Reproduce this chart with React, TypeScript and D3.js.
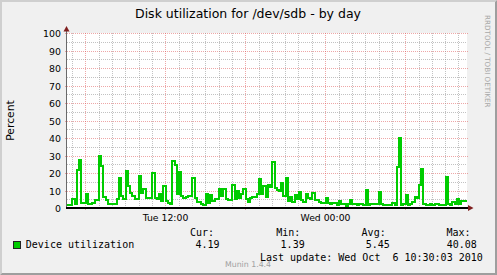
import React from 'react';
import * as d3 from 'd3';

// ---- data ----
const START = Date.UTC(2010, 9, 5, 4, 36);
const END = Date.UTC(2010, 9, 6, 10, 36);
const FIRST_SAMPLE = Date.UTC(2010, 9, 5, 4, 40);
const STEP_MS = 10 * 60 * 1000;

const utilization = [
  2.2, 2.2, 5.6, 2.4, 22, 27.7, 3.3, 3.3, 8.5, 2.4,
  2.4, 3.3, 5, 4.8, 30, 24.3, 6.6, 5, 2.8, 2.8,
  2.8, 2.8, 5.2, 17.6, 7, 5.2, 21.4, 12.9, 9, 7,
  5.2, 5.5, 18.6, 9, 11, 6.2, 5.8, 5.8, 20.5, 5.8,
  5.2, 8.5, 4.3, 12.9, 4.3, 3.3, 2.4, 27.1, 24.9, 8.1,
  21, 7.1, 6.2, 6.6, 7.1, 7.1, 17.6, 5.8, 3.9, 3.9,
  2.8, 2, 8.5, 3.3, 7.7, 4.3, 5.2, 5.2, 11, 7.1,
  11, 5.2, 4.7, 4.7, 13.4, 5.2, 10, 6.2, 8.1, 11,
  5.2, 3.9, 5.8, 6.6, 6.6, 8.1, 16.7, 8.1, 12.9, 6.6,
  13.4, 12.3, 26.8, 11.9, 10.4, 10, 14.8, 7.1, 17.6, 4.3,
  6.6, 3.9, 7.5, 5.2, 9.6, 4.7, 3.9, 8.1, 5.8, 5.2,
  8.7, 4.7, 4.7, 3.9, 3.3, 3.3, 6.2, 3.3, 2.4, 3.3,
  3.3, 2, 4.3, 2.4, 2.4, 1.39, 2.4, 4.7, 2.4, 2.4,
  2, 2.4, 2.4, 2, 10.5, 2, 2.8, 2.4, 2.4, 2.4,
  9.4, 2.4, 2, 2, 2, 2, 3.3, 2, 23.7, 40.08,
  2, 2.8, 7.7, 2, 2.8, 3.9, 6.6, 5.8, 13.4, 22.4,
  2.4, 2, 2, 2.8, 2, 2.8, 2.8, 2, 2, 2,
  18, 2.4, 2, 3.9, 2.4, 5.2, 2.8, 4.3, 4.3, 4.19,
];

const yTicks = [0, 10, 20, 30, 40, 50, 60, 70, 80, 90, 100];
const yMinorTicks = [5, 15, 25, 35, 45, 55, 65, 75, 85, 95];
const legendHeaders = ['Cur:', 'Min:', 'Avg:', 'Max:'];
const legendValues = ['4.19', '1.39', '5.45', '40.08'];
const seriesName = 'Device utilization';
const titleText = 'Disk utilization for /dev/sdb - by day';
const yLabel = 'Percent';
const lastUpdate = 'Last update: Wed Oct  6 10:30:03 2010';
const watermark = 'RRDTOOL / TOBI OETIKER';
const version = 'Munin 1.4.4';

// ---- layout ----
const W = 497, H = 275;
const X0 = 67, X1 = 467, Y0 = 208.5, Y1 = 33.5;
const SANS = '"DejaVu Sans", sans-serif';
const MONO = '"DejaVu Sans Mono", monospace';
const headerX = [190, 276.3, 361.6, 446.4];
const valueX = [195.4, 280.6, 365.8, 446.7];

export default function App() {
  const x = d3.scaleUtc().domain([START, END]).range([X0, X1]);
  const y = d3.scaleLinear().domain([0, 100]).range([Y0, Y1]);
  const gy = (v: number) => Math.floor(y(v)) + 0.5;
  const gx = (t: Date) => Math.floor(x(t)) + 0.5;

  const pts = utilization.map((v, i) => ({ t: FIRST_SAMPLE + i * STEP_MS, v }));
  pts[0] = { t: START, v: pts[0].v };
  pts.push({ t: END, v: utilization[utilization.length - 1] });

  const line = d3
    .line<{ t: number; v: number }>()
    .x((d) => Math.round(x(d.t)))
    .y((d) => Math.round(y(d.v)))
    .curve(d3.curveStepAfter);

  const hourTicks = x.ticks(d3.utcHour.every(1)!);
  const majorTicks = x.ticks(d3.utcHour.every(6)!);
  const labelTicks = x.ticks(d3.utcHour.every(12)!);
  const fmt = d3.utcFormat('%a %H:%M');
  const majorSet = new Set(majorTicks.map((d) => +d));

  const minorGridColor = 'rgba(143,143,143,0.55)';
  const majorGridColor = 'rgba(222,79,79,0.5)';

  return (
    <svg
      width={W}
      height={H}
      style={{ position: 'absolute', left: 0, top: 0, display: 'block' }}
    >
      <rect x={0} y={0} width={W} height={H} fill="#F0F0F0" />
      {/* 3d border */}
      <polygon points={`0,0 ${W},0 ${W - 2},2 2,2 2,${H - 2} 0,${H}`} fill="#CFCFCF" />
      <polygon points={`${W},${H} ${W},0 ${W - 2},2 ${W - 2},${H - 2} 2,${H - 2} 0,${H}`} fill="#9E9E9E" />

      {/* canvas */}
      <rect x={X0} y={33} width={X1 - X0} height={175} fill="#FFFFFF" />

      {/* horizontal grid */}
      {yMinorTicks.map((v) => (
        <line key={'hm' + v} x1={X0} x2={X1} y1={gy(v)} y2={gy(v)} stroke={minorGridColor} strokeWidth={1} strokeDasharray="1,1" />
      ))}
      {yTicks.filter((v) => v > 0).map((v) => (
        <line key={'hM' + v} x1={X0 - 2} x2={X1 + 2} y1={gy(v)} y2={gy(v)} stroke={majorGridColor} strokeWidth={1} strokeDasharray="1,1" />
      ))}
      {/* vertical grid */}
      {hourTicks.filter((d) => !majorSet.has(+d)).map((d) => (
        <line key={'vm' + +d} x1={gx(d)} x2={gx(d)} y1={33} y2={208} stroke={minorGridColor} strokeWidth={1} strokeDasharray="1,1" />
      ))}
      {majorTicks.map((d) => (
        <line key={'vM' + +d} x1={gx(d)} x2={gx(d)} y1={33} y2={210} stroke={majorGridColor} strokeWidth={1} strokeDasharray="1,1" />
      ))}

      {/* data line */}
      <path d={line(pts) || ''} fill="none" stroke="#00CC00" strokeWidth={2} strokeLinejoin="miter" />

      {/* axes */}
      <line x1={66.5} x2={66.5} y1={209} y2={30} stroke="#6A6A6A" strokeWidth={1} />
      <rect x={66} y={207} width={403} height={2} fill="#000000" />
      <polygon points="66.5,26 63.5,31.5 69.5,31.5" fill="#7F1F1F" />
      <polygon points="473.5,208 468,205 468,211" fill="#7F1F1F" />

      {/* y tick labels */}
      {yTicks.map((v) => (
        <text key={'yl' + v} x={61} y={gy(v) + 3.3} textAnchor="end" fontFamily={SANS} fontSize={9.4} fill="#000">
          {v}
        </text>
      ))}
      {/* x tick labels */}
      {labelTicks.map((d) => (
        <text key={'xl' + +d} x={gx(d)} y={221} textAnchor="middle" fontFamily={SANS} fontSize={9.3} fill="#000">
          {fmt(d)}
        </text>
      ))}

      {/* title */}
      <text x={248} y={18} textAnchor="middle" fontFamily={SANS} fontSize={12.5} fill="#000">
        {titleText}
      </text>
      {/* y label */}
      <text transform={`translate(14.3,120.5) rotate(-90)`} textAnchor="middle" fontFamily={SANS} fontSize={10.8} fill="#000">
        {yLabel}
      </text>
      {/* watermark */}
      <text transform={`translate(485,15) rotate(90)`} fontFamily={SANS} fontSize={7.2} fill="#A8A8A8">
        {watermark}
      </text>

      {/* legend */}
      <rect x={13.5} y={241.5} width={7} height={7} fill="#00CC00" stroke="#222" strokeWidth={1} />
      <text x={25.8} y={248.3} fontFamily={MONO} fontSize={10} fill="#000">
        {seriesName}
      </text>
      {legendHeaders.map((h, i) => (
        <text key={'lh' + i} x={headerX[i]} y={236} fontFamily={MONO} fontSize={10} fill="#000">
          {h}
        </text>
      ))}
      {legendValues.map((v, i) => (
        <text key={'lv' + i} x={valueX[i]} y={248.3} fontFamily={MONO} fontSize={10} fill="#000">
          {v}
        </text>
      ))}
      <text x={225} y={266.5} fontFamily={SANS} fontSize={7.8} fill="#A0A0A0">
        {version}
      </text>
      <text x={260} y={260.7} fontFamily={MONO} fontSize={10} fill="#000" style={{ whiteSpace: 'pre' }}>
        {lastUpdate}
      </text>
    </svg>
  );
}
